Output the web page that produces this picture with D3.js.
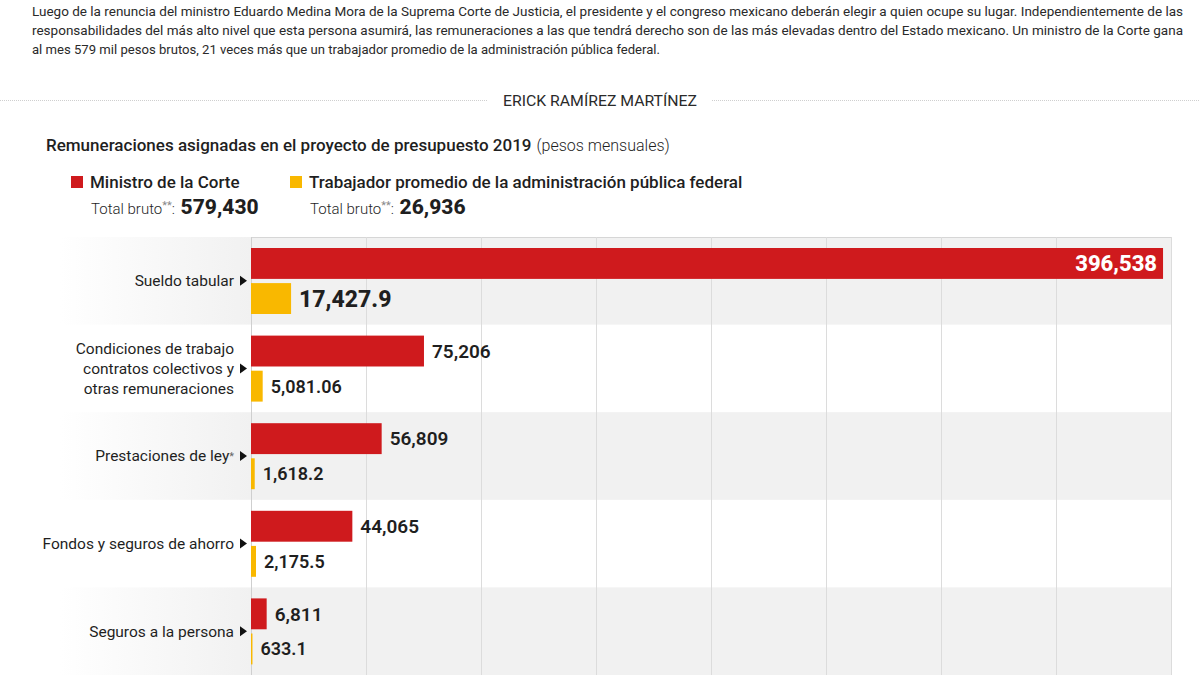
<!DOCTYPE html>
<html><head><meta charset="utf-8">
<script src="https://cdn.jsdelivr.net/npm/d3@7"></script>
<style>html,body{margin:0;padding:0;background:#fff;}svg{display:block;font-family:Roboto, "Open Sans", sans-serif;}</style>
</head><body>
<svg id="c" width="1200" height="675"></svg>
<script>
const categories = ["Sueldo tabular", "Condiciones de trabajo|contratos colectivos y|otras remuneraciones", "Prestaciones de ley*", "Fondos y seguros de ahorro", "Seguros a la persona"];
const ministro = [396538, 75206, 56809, 44065, 6811];
const trabajador = [17427.9, 5081.06, 1618.2, 2175.5, 633.1];
const ministroLabels = ["396,538", "75,206", "56,809", "44,065", "6,811"];
const trabajadorLabels = ["17,427.9", "5,081.06", "1,618.2", "2,175.5", "633.1"];
const tickValues = [0, 50000, 100000, 150000, 200000, 250000, 300000, 350000, 400000];
const seriesNames = ["Ministro de la Corte", "Trabajador promedio de la administración pública federal"];
const totals = ["579,430", "26,936"];
const paragraph = [
 "Luego de la renuncia del ministro Eduardo Medina Mora de la Suprema Corte de Justicia, el presidente y el congreso mexicano deberán elegir a quien ocupe su lugar. Independientemente de las",
 "responsabilidades del más alto nivel que esta persona asumirá, las remuneraciones a las que tendrá derecho son de las más elevadas dentro del Estado mexicano. Un ministro de la Corte gana",
 "al mes 579 mil pesos brutos, 21 veces más que un trabajador promedio de la administración pública federal."
];
const RED = "#cf1a1d", YEL = "#f9b800", TXT = "#1f1f1f";

const svg = d3.select("#c");
// header paragraph
const paraW = [1151, 1151, 628];
svg.append("g").selectAll("text").data(paragraph).join("text")
  .attr("x", 32).attr("y", (d,i)=>16 + i*19)
  .attr("font-size", 13).attr("fill", "#2a2a2a")
  .attr("textLength", (d,i)=>paraW[i]).attr("lengthAdjust", "spacingAndGlyphs")
  .text(d=>d);

// byline
svg.append("line").attr("x1",0).attr("x2",488).attr("y1",100.5).attr("y2",100.5)
  .attr("stroke","#cfcfcf").attr("stroke-dasharray","1,1");
svg.append("line").attr("x1",712).attr("x2",1200).attr("y1",100.5).attr("y2",100.5)
  .attr("stroke","#cfcfcf").attr("stroke-dasharray","1,1");
svg.append("text").attr("x",600).attr("y",106).attr("text-anchor","middle")
  .attr("font-size",15).attr("fill","#2a2a2a").attr("textLength",194).attr("lengthAdjust","spacingAndGlyphs")
  .text("ERICK RAMÍREZ MARTÍNEZ");

// title
const t = svg.append("text").attr("x",46).attr("y",151).attr("fill",TXT);
t.append("tspan").attr("font-size",17).attr("font-weight",500).text("Remuneraciones asignadas en el proyecto de presupuesto 2019");
t.append("tspan").attr("font-size",16).attr("font-weight",300).attr("dx",5).text("(pesos mensuales)");

// legend
const legX = [71, 290];
const lg = svg.append("g").selectAll("g").data(seriesNames).join("g");
lg.append("rect").attr("x",(d,i)=>legX[i]).attr("y",176).attr("width",12).attr("height",12)
  .attr("fill",(d,i)=>i===0?RED:YEL);
lg.append("text").attr("x",(d,i)=>legX[i]+19).attr("y",188).attr("font-size",17).attr("font-weight",500).attr("fill",TXT).text(d=>d);
const tb = lg.append("text").attr("x",(d,i)=>legX[i]+20).attr("y",214).attr("fill",TXT);
tb.append("tspan").attr("font-size",15).attr("font-weight",300).text("Total bruto");
tb.append("tspan").attr("font-size",11).attr("fill","#888").attr("dy",-5).text("**");
tb.append("tspan").attr("font-size",15).attr("font-weight",300).attr("dy",5).text(": ");
tb.append("tspan").attr("font-size",21).attr("font-weight",800).attr("dx",2).text((d,i)=>totals[i]);

// scales
const x = d3.scaleLinear().domain([0, 400000]).range([251, 1171]);
const y = d3.scaleBand().domain(categories).range([237, 675]);
const inner = d3.scaleBand().domain(["m","t"]).range([11, 77]).paddingInner(0.12);

// row backgrounds with left fade
const defs = svg.append("defs");
const gr = defs.append("linearGradient").attr("id","fade").attr("x1",0).attr("x2",1).attr("y1",0).attr("y2",0);
gr.append("stop").attr("offset","0%").attr("stop-color","#f1f1f1").attr("stop-opacity",0);
gr.append("stop").attr("offset","100%").attr("stop-color","#f1f1f1").attr("stop-opacity",1);
const rows = categories.filter((d,i)=>i%2===0);
svg.append("g").selectAll("rect").data(rows).join("rect")
  .attr("x",60).attr("width",191).attr("y",d=>y(d)).attr("height",y.bandwidth()).attr("fill","url(#fade)");
svg.append("g").selectAll("rect").data(rows).join("rect")
  .attr("x",251).attr("width",920).attr("y",d=>y(d)).attr("height",y.bandwidth()).attr("fill","#f1f1f1");

// grid
const axis = d3.axisTop(x).tickValues(tickValues).tickSize(-(675-237)).tickFormat("");
const ga = svg.append("g").attr("transform","translate(0,237)").call(axis);
ga.select(".domain").attr("stroke","#d6d6d6").attr("d","M251.5,0.5H1171.5");
ga.selectAll(".tick line").attr("stroke","#dcdcdc");
ga.selectAll(".tick").filter(d=>d===0).select("line").attr("stroke","#cfcfcf");

// bars
const g = svg.append("g");
g.selectAll("rect.m").data(ministro).join("rect").attr("class","m")
  .attr("x",x(0)).attr("y",(d,i)=>y(categories[i])+inner("m")).attr("height",inner.bandwidth())
  .attr("width",d=>x(d)-x(0)).attr("fill",RED);
g.selectAll("rect.t").data(trabajador).join("rect").attr("class","t")
  .attr("x",x(0)).attr("y",(d,i)=>y(categories[i])+inner("t")).attr("height",inner.bandwidth())
  .attr("width",d=>x(d)-x(0)).attr("fill",YEL);

// value labels
g.selectAll("text.m").data(ministro).join("text").attr("class","m")
  .attr("x",(d,i)=> i===0 ? x(d)-6 : x(d)+8)
  .attr("y",(d,i)=>y(categories[i])+inner("m")+inner.bandwidth()/2)
  .attr("dy","0.36em")
  .attr("text-anchor",(d,i)=>i===0?"end":"start")
  .attr("font-size",(d,i)=>i===0?22:19)
  .attr("font-weight",(d,i)=>i===0?800:600)
  .attr("fill",(d,i)=>i===0?"#fff":TXT)
  .text((d,i)=>ministroLabels[i]);
g.selectAll("text.t").data(trabajador).join("text").attr("class","t")
  .attr("x",d=>x(d)+8)
  .attr("y",(d,i)=>y(categories[i])+inner("t")+inner.bandwidth()/2)
  .attr("dy","0.36em")
  .attr("font-size",(d,i)=>i===0?23:18)
  .attr("font-weight",(d,i)=>i===0?800:600)
  .attr("fill",TXT)
  .text((d,i)=>trabajadorLabels[i]);

// category labels
const cl = svg.append("g").selectAll("g").data(categories).join("g")
  .attr("transform",d=>`translate(0,${y(d)+y.bandwidth()/2})`);
cl.append("path").attr("d","M240,-5L247,0L240,5Z").attr("fill","#111");
cl.each(function(d){
  const lines = d.split("|");
  const txt = d3.select(this).append("text").attr("text-anchor","end").attr("font-size",15.5).attr("fill",TXT);
  lines.forEach((l,j)=>{
    const off = (j-(lines.length-1)/2)*20;
    const ts = txt.append("tspan").attr("x",234).attr("y",off).attr("dy","0.35em");
    if (l.endsWith("*")) { ts.text(l.slice(0,-1)); txt.append("tspan").attr("font-size",11).attr("fill","#666").attr("dy","-0.1em").text("*"); }
    else ts.text(l);
  });
});
</script>
</body></html>
